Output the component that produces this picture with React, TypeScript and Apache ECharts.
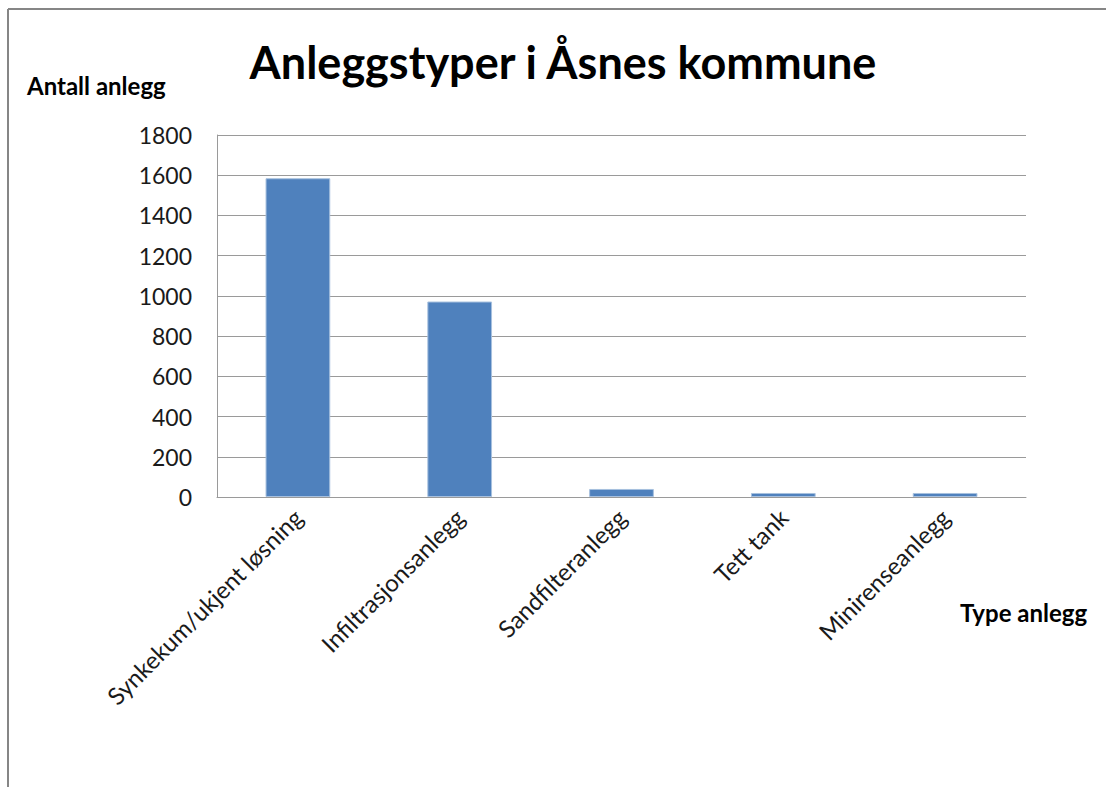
import React, { useEffect, useRef } from "react";
import * as echarts from "echarts";

const categories = [
  "Synkekum/ukjent løsning",
  "Infiltrasjonsanlegg",
  "Sandfilteranlegg",
  "Tett tank",
  "Minirenseanlegg",
];
const values = [1585, 972, 40, 20, 20];
const titleText = "Anleggstyper i Åsnes kommune";
const yName = "Antall anlegg";
const xName = "Type anlegg";

const FONT = "Lato, 'Open Sans', sans-serif";

export default function App() {
  const ref = useRef<HTMLDivElement>(null);
  useEffect(() => {
    if (!ref.current) return;
    const chart = echarts.init(ref.current, undefined, { renderer: "svg" });
    chart.setOption({
      animation: false,
      backgroundColor: "#ffffff",
      textStyle: { fontFamily: FONT },
      grid: { left: 217, right: 80, top: 135, bottom: 290, containLabel: false },
      xAxis: {
        type: "category",
        data: categories,
        axisLine: { show: true, lineStyle: { color: "#9a9a9a", width: 1 } },
        axisTick: { show: false },
        axisLabel: {
          rotate: 45,
          interval: 0,
          margin: 16,
          fontSize: 24,
          color: "#1a1a1a",
          fontFamily: FONT,
        },
      },
      yAxis: {
        type: "value",
        min: 0,
        max: 1800,
        interval: 200,
        axisLine: { show: true, lineStyle: { color: "#9a9a9a", width: 1 } },
        axisTick: { show: false },
        splitLine: { show: true, lineStyle: { color: "#9a9a9a", width: 1 } },
        axisLabel: {
          fontSize: 23,
          color: "#1a1a1a",
          margin: 25,
          fontFamily: FONT,
          formatter: (v: number) => String(v),
        },
      },
      series: [
        {
          type: "bar",
          data: values,
          barWidth: "40%",
          itemStyle: { color: "#4F81BD", borderColor: "#A7C0DE", borderWidth: 1 },
        },
      ],
      graphic: [
        {
          type: "line",
          shape: { x1: 8, y1: 9, x2: 1106, y2: 9 },
          style: { stroke: "#868686", lineWidth: 2 },
        },
        {
          type: "line",
          shape: { x1: 8, y1: 9, x2: 8, y2: 787 },
          style: { stroke: "#868686", lineWidth: 2 },
        },
        {
          type: "text",
          x: 563,
          y: 62,
          style: {
            text: titleText,
            font: `bold 45px ${FONT}`,
            fill: "#000000",
            align: "center",
            verticalAlign: "middle",
          },
        },
        {
          type: "text",
          x: 27,
          y: 85,
          style: {
            text: yName,
            font: `bold 24px ${FONT}`,
            fill: "#000000",
            align: "left",
            verticalAlign: "middle",
          },
        },
        {
          type: "text",
          x: 960,
          y: 612,
          style: {
            text: xName,
            font: `bold 24px ${FONT}`,
            fill: "#000000",
            align: "left",
            verticalAlign: "middle",
          },
        },
      ],
    });
    return () => chart.dispose();
  }, []);
  return (
    <div
      ref={ref}
      style={{ position: "fixed", left: 0, top: 0, width: 1106, height: 787, background: "#fff" }}
    />
  );
}
